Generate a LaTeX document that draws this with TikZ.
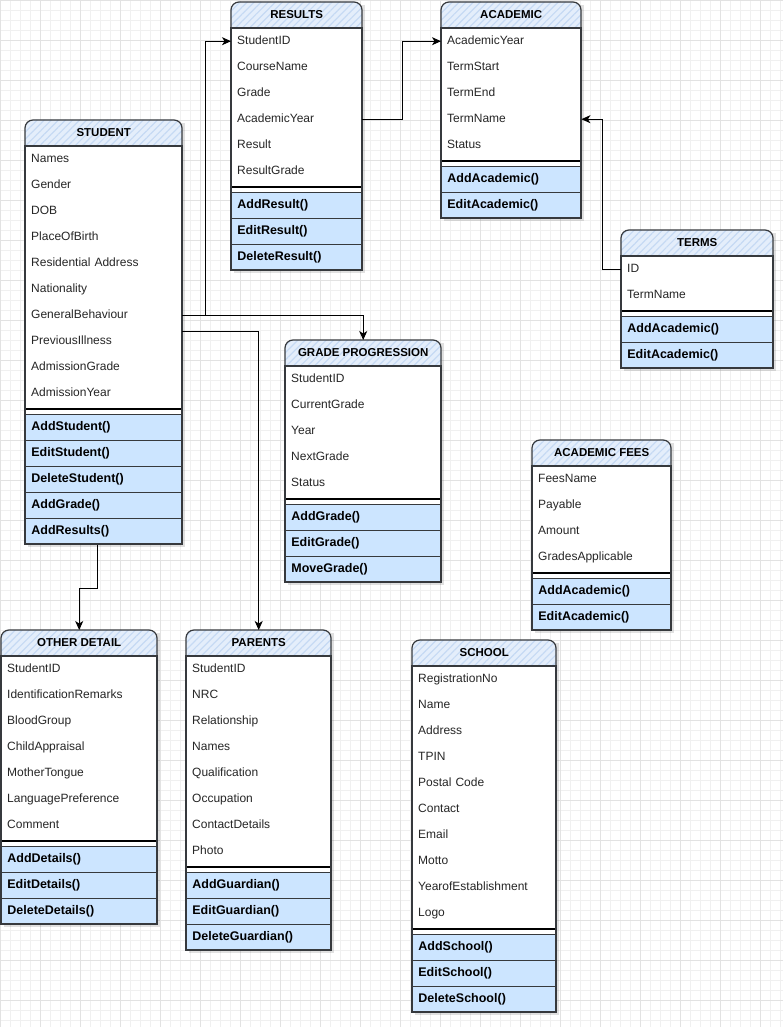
\documentclass[tikz,border=0pt]{standalone}
\usepackage{fontspec}
\setmainfont{Liberation Sans}
\usetikzlibrary{arrows.meta,patterns.meta,calc}

\definecolor{hdrc}{HTML}{E4EEFB}
\definecolor{hatchc}{HTML}{C6DAF4}
\definecolor{methc}{HTML}{CCE5FF}
\definecolor{linec}{HTML}{36393D}
\definecolor{gridminor}{HTML}{F0F0F0}
\definecolor{gridmajor}{HTML}{E2E2E2}

\tikzset{
  boxline/.style={draw=linec, line width=1.2pt},
  headfill/.style={fill=hdrc, postaction={pattern={Lines[angle=45,distance=5pt,line width=1.2pt]}, pattern color=hatchc}},
  boxshadow/.style={fill=black, opacity=0.12},
  titlerow/.style={anchor=north west, minimum height=26pt, inner sep=0pt, text height=8.5pt, text depth=2pt, font=\fontsize{11.5}{13}\selectfont\bfseries},
  attrrow/.style={anchor=north west, minimum height=26pt, inner xsep=6pt, inner ysep=0pt, text height=9pt, text depth=2.5pt, align=left, font=\fontsize{12}{14}\selectfont, text=black!85},
  methrow/.style={attrrow, draw=linec, line width=0.8pt, fill=methc, font=\fontsize{12.5}{14}\selectfont\bfseries, text=black},
  link/.style={draw=black, line width=1pt, -{Stealth[length=9pt,width=8pt,inset=2.5pt]}},
}

% table: name, left, top, width, title, attributes, methods
\newcommand{\erbox}[7]{%
  \foreach \txt [count=\i] in {#6} {\global\let\nattr\i}
  \foreach \txt [count=\i] in {#7} {\global\let\nmeth\i}
  \pgfmathsetmacro\ya{#3+26}
  \pgfmathsetmacro\ye{\ya+26*\nattr}
  \pgfmathsetmacro\ym{\ye+8}
  \pgfmathsetmacro\yb{\ym+26*\nmeth}
  \pgfmathsetmacro\xr{#2+#4}
  \pgfmathsetmacro\tw{#4-12}
  \fill[boxshadow] (#2+3,#3+3) rectangle (\xr+3,\yb+3);
  \path[headfill, rounded corners=8pt] (#2,#3) rectangle (\xr,\ya+10);
  \draw[boxline, rounded corners=8pt] (#2,#3) rectangle (\xr,\ya+10);
  \draw[boxline, fill=white] (#2,\ya) rectangle (\xr,\yb);
  \node[titlerow, minimum width=#4] (#1-h) at (#2,#3) {#5};
  \foreach \txt [count=\i] in {#6} {
    \node[attrrow, minimum width=#4, text width=\tw pt] (#1-a\i) at (#2,\ya+26*\i-26) {\txt};
  }
  \foreach \txt [count=\i] in {#7} {
    \node[methrow, minimum width=#4, text width=\tw pt] (#1-m\i) at (#2,\ym+26*\i-26) {\txt};
  }
  \draw[black, line width=1.4pt] (#2,\ye+3) -- (\xr,\ye+3);
  \draw[boxline] (#2,\ya) rectangle (\xr,\yb);
}

\begin{document}
\begin{tikzpicture}[x=1pt, y=-1pt]
    \useasboundingbox (0,0) rectangle (783,1027);
    \fill[white] (0,0) rectangle (783,1027);
    \draw[gridminor, step=10pt, line width=0.6pt] (0,1027) grid (783,0);
    \draw[gridmajor, step=40pt, line width=0.6pt] (0,1027) grid (783,0);

    \erbox{student}{25}{120}{157}{STUDENT}
      {Names, Gender, DOB, PlaceOfBirth, Residential Address, Nationality, GeneralBehaviour, PreviousIllness, AdmissionGrade, AdmissionYear}
      {AddStudent(), EditStudent(), DeleteStudent(), AddGrade(), AddResults()}
    \erbox{results}{231}{2}{131}{RESULTS}
      {StudentID, CourseName, Grade, AcademicYear, Result, ResultGrade}
      {AddResult(), EditResult(), DeleteResult()}
    \erbox{academic}{441}{2}{140}{ACADEMIC}
      {AcademicYear, TermStart, TermEnd, TermName, Status}
      {AddAcademic(), EditAcademic()}
    \erbox{terms}{621}{230}{152}{TERMS}
      {ID, TermName}
      {AddAcademic(), EditAcademic()}
    \erbox{grade}{285}{340}{156}{GRADE PROGRESSION}
      {StudentID, CurrentGrade, Year, NextGrade, Status}
      {AddGrade(), EditGrade(), MoveGrade()}
    \erbox{fees}{532}{440}{139}{ACADEMIC FEES}
      {FeesName, Payable, Amount, GradesApplicable}
      {AddAcademic(), EditAcademic()}
    \erbox{other}{1}{630}{156}{OTHER DETAIL}
      {StudentID, IdentificationRemarks, BloodGroup, ChildAppraisal, MotherTongue, LanguagePreference, Comment}
      {AddDetails(), EditDetails(), DeleteDetails()}
    \erbox{parents}{186}{630}{145}{PARENTS}
      {StudentID, NRC, Relationship, Names, Qualification, Occupation, ContactDetails, Photo}
      {AddGuardian(), EditGuardian(), DeleteGuardian()}
    \erbox{school}{412}{640}{144}{SCHOOL}
      {RegistrationNo, Name, Address, TPIN, Postal Code, Contact, Email, Motto, YearofEstablishment, Logo}
      {AddSchool(), EditSchool(), DeleteSchool()}

    % links
    \coordinate (stout) at ($(student-a8.north east)+(0,3)$);
    \coordinate (stbot) at ($(student-m5.south)+(-6,0)$);
    \draw[link] (student-a7.east) -- ++(23,0) |- (results-a1.west);
    \draw[link] (student-a7.east) -| (grade-h.north);
    \draw[link] (stout) -| (parents-h.north);
    \draw[link] (stbot) -- ++(0,44) -| (other-h.north);
    \draw[link] (results-a4.east) -- ++(40,0) |- (academic-a1.west);
    \draw[link] (terms-a1.west) -- ++(-19,0) |- (academic-a4.east);
\end{tikzpicture}
\end{document}
